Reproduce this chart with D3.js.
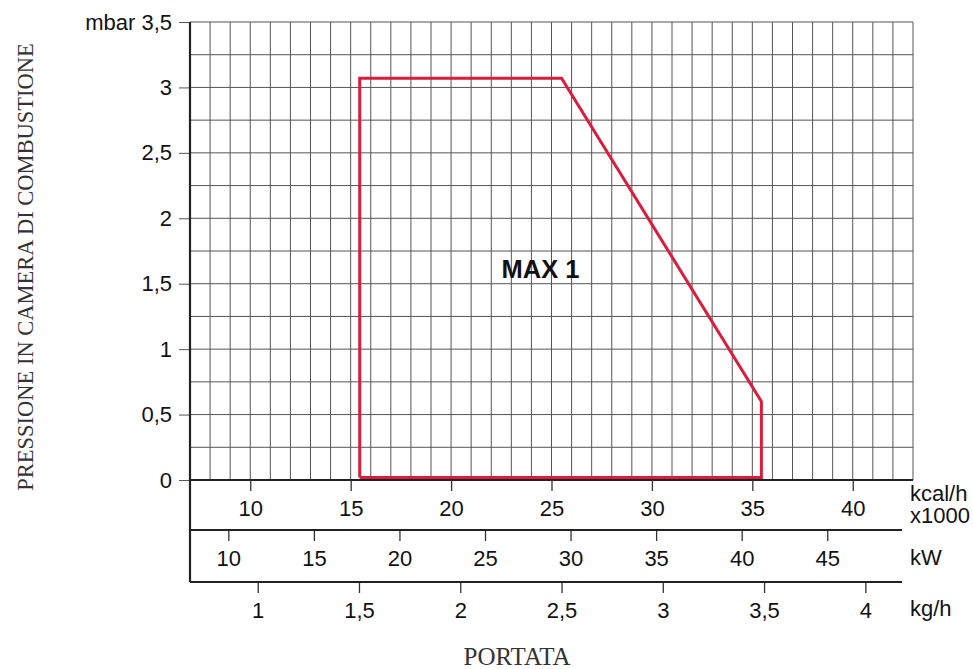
<!DOCTYPE html>
<meta charset="utf-8">
<script src="https://d3js.org/d3.v7.min.js"></script>
<style>
  body { margin: 0; background: #fff; }
  text { font-family: "Liberation Sans", Arial, sans-serif; fill: #111; }
  .serif { font-family: "Liberation Serif", "Times New Roman", serif; fill: #333; }
</style>
<div id="my_dataviz"></div>
<script>

  // ---- data ----
  // envelope of the burner (x in kcal/h x1000, y in mbar)
  var envelope = [[15.45, 0.02], [15.45, 3.07], [25.5, 3.07], [35.45, 0.6], [35.45, 0.02], [15.45, 0.02]];
  var envelopeLabel = "MAX 1";

  var mbarTicks = [0, 0.5, 1, 1.5, 2, 2.5, 3, 3.5];
  var kcalTicks = [10, 15, 20, 25, 30, 35, 40];
  var kwTicks = [10, 15, 20, 25, 30, 35, 40, 45];
  var kghTicks = [1, 1.5, 2, 2.5, 3, 3.5, 4];

  var yTitle = "PRESSIONE IN CAMERA DI COMBUSTIONE";
  var xTitle = "PORTATA";

  // ---- layout ----
  var W = 973, H = 669;
  var plotLeft = 190, plotRight = 913, plotTop = 22, plotBottom = 480;
  var kwLine = 530, kgLine = 582, subRight = 902;
  var labelSize = "22px";

  var fmt = function(v) { return String(v).replace(".", ","); };

  var svg = d3.select("#my_dataviz")
    .append("svg")
      .attr("width", W)
      .attr("height", H);

  var x = d3.scaleLinear().domain([7, 43]).range([plotLeft, plotRight]);
  var y = d3.scaleLinear().domain([0, 3.5]).range([plotBottom, plotTop]);
  var xkw = d3.scaleLinear().domain([7.76, 49.37]).range([plotLeft, subRight]);
  var xkg = d3.scaleLinear().domain([0.6657, 4.181]).range([plotLeft, subRight]);

  // grid: every 1 kcal/h x1000 and every 0.25 mbar
  var grid = svg.append("g").attr("stroke", "#555").attr("stroke-width", 1);
  grid.selectAll("line.v")
    .data(d3.range(8, 44))
    .enter().append("line")
      .attr("x1", function(d) { return x(d); })
      .attr("x2", function(d) { return x(d); })
      .attr("y1", y(3.5))
      .attr("y2", y(0));
  grid.selectAll("line.h")
    .data(d3.range(1, 15).map(function(i) { return i * 0.25; }))
    .enter().append("line")
      .attr("x1", plotLeft)
      .attr("x2", x(43))
      .attr("y1", function(d) { return y(d); })
      .attr("y2", function(d) { return y(d); });

  // y axis (ticks on the left)
  var yAxis = svg.append("g")
    .attr("transform", "translate(" + plotLeft + ",0)")
    .call(d3.axisLeft(y).tickValues(mbarTicks).tickSize(11).tickPadding(7)
      .tickFormat(function(d) { return d === 3.5 ? "mbar " + fmt(d) : fmt(d); }));
  yAxis.select(".domain").remove();
  yAxis.selectAll("line").attr("stroke", "#555");
  yAxis.selectAll("text").style("font-size", labelSize).style("font-family", '"Liberation Sans", Arial, sans-serif').style("fill", "#111");

  // frame lines
  svg.append("line").attr("x1", plotLeft).attr("x2", plotLeft).attr("y1", plotTop).attr("y2", kgLine)
    .attr("stroke", "#222").attr("stroke-width", 2.2);
  svg.append("line").attr("x1", plotLeft - 1).attr("x2", plotRight).attr("y1", plotBottom).attr("y2", plotBottom)
    .attr("stroke", "#222").attr("stroke-width", 2.2);

  // bottom axes
  function bandAxis(scale, ticks, yPos, lineRight) {
    var g = svg.append("g").attr("transform", "translate(0," + yPos + ")");
    g.call(d3.axisBottom(scale).tickValues(ticks).tickSize(11).tickPadding(9).tickFormat(fmt));
    g.select(".domain").remove();
    g.selectAll("line").attr("stroke", "#333").attr("stroke-width", 1.3);
    g.selectAll("text").style("font-size", labelSize).style("font-family", '"Liberation Sans", Arial, sans-serif').style("fill", "#111");
    if (lineRight) {
      g.append("line").attr("x1", plotLeft).attr("x2", lineRight).attr("y1", 0).attr("y2", 0)
        .attr("stroke", "#222").attr("stroke-width", 2.2);
    }
    return g;
  }
  bandAxis(x, kcalTicks, plotBottom);
  bandAxis(xkw, kwTicks, kwLine, subRight);
  bandAxis(xkg, kghTicks, kgLine, subRight);

  // unit labels
  var units = [["kcal/h", 500.5], ["x1000", 522.5], ["kW", 565], ["kg/h", 616]];
  svg.selectAll("text.unit")
    .data(units)
    .enter().append("text")
      .attr("class", "unit")
      .attr("x", 910)
      .attr("y", function(d) { return d[1]; })
      .style("font-size", labelSize)
      .text(function(d) { return d[0]; });

  // envelope
  svg.append("path")
    .datum(envelope)
    .attr("fill", "none")
    .attr("stroke", "#d81e3c")
    .attr("stroke-width", 3)
    .attr("stroke-linejoin", "miter")
    .attr("d", d3.line().x(function(d) { return x(d[0]); }).y(function(d) { return y(d[1]); }));

  svg.append("text")
    .attr("x", x(24.45))
    .attr("y", y(1.545))
    .attr("text-anchor", "middle")
    .style("font-size", "25.5px")
    .style("font-weight", "bold")
    .text(envelopeLabel);

  // titles
  svg.append("text")
    .attr("class", "serif")
    .attr("transform", "translate(33,267) rotate(-90)")
    .attr("text-anchor", "middle")
    .style("font-size", "22.5px")
    .text(yTitle);

  svg.append("text")
    .attr("class", "serif")
    .attr("x", 517)
    .attr("y", 665)
    .attr("text-anchor", "middle")
    .style("font-size", "25px")
    .text(xTitle);

</script>
